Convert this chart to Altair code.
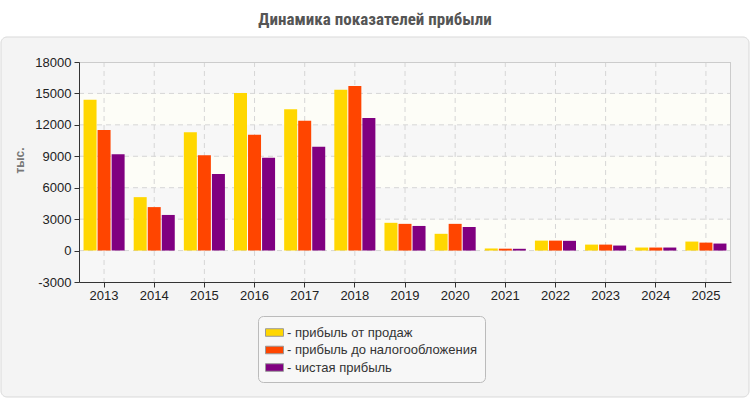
import altair as alt
import pandas as pd

# Profit indicators, thousands
years = ["2013", "2014", "2015", "2016", "2017", "2018", "2019",
         "2020", "2021", "2022", "2023", "2024", "2025"]
sales_profit = [14400, 5100, 11300, 15050, 13500, 15350, 2650,
                1600, 200, 950, 570, 290, 860]
pretax_profit = [11500, 4150, 9100, 11050, 12400, 15700, 2550,
                 2550, 180, 950, 570, 290, 760]
net_profit = [9200, 3400, 7300, 8850, 9900, 12650, 2350,
              2250, 170, 930, 480, 290, 670]

series_names = ["прибыль от продаж", "прибыль до налогообложения", "чистая прибыль"]
series_colors = ["#FFD700", "#FF4500", "#800080"]
y_ticks = [-3000, 0, 3000, 6000, 9000, 12000, 15000, 18000]

W, H = 652, 220
FONT = "Liberation Sans, Arial, sans-serif"

rows = []
for name, vals in zip(series_names, [sales_profit, pretax_profit, net_profit]):
    for yr, v in zip(years, vals):
        rows.append({"year": yr, "series": name, "value": v})
df = pd.DataFrame(rows)

# alternating horizontal bands behind the bars
bands = pd.DataFrame({
    "value": y_ticks[1:],
    "lo": y_ticks[:-1],
    "kind": ["a" if i % 2 == 0 else "b" for i in range(len(y_ticks) - 1)],
})

y_scale = alt.Scale(domain=[-3000, 18000], nice=False, zero=False)
x_scale = alt.Scale(domain=years, paddingInner=0.18, paddingOuter=0.09)

# one shared axis definition per channel, reused by every layer
x_axis = alt.Axis(title=None, labelAngle=0, labelFontSize=13,
                  labelColor="#222222", labelFont=FONT,
                  tickSize=5, tickColor="#333333",
                  domainColor="#333333", labelPadding=2,
                  grid=False, zindex=1)
y_axis = alt.Axis(values=y_ticks, title="тыс.", titleFontSize=12,
                  titleFont=FONT, titleColor="#777777",
                  titleFontWeight="bold", titleAngle=-90,
                  titleX=-60, titleY=98, titleAlign="center",
                  titleBaseline="middle",
                  labelExpr="'' + datum.value",
                  labelFontSize=13, labelColor="#222222",
                  labelFont=FONT, tickSize=5, tickColor="#333333",
                  domainColor="#333333", labelPadding=3,
                  grid=False, zindex=1)

one = pd.DataFrame({"k": [0]})

panel = alt.Chart(one).mark_rect(
    fill="#f4f4f4", stroke="#d9d9d9", strokeWidth=1, cornerRadius=6
).encode(
    x=alt.value(-78), x2=alt.value(670), y=alt.value(-25), y2=alt.value(335)
)

title = alt.Chart(one).mark_text(
    text="Динамика показателей прибыли", fontSize=17, fontWeight="bold",
    font="Liberation Sans Narrow, Arial Narrow, Roboto Condensed, sans-serif",
    color="#555555", align="center", baseline="middle"
).encode(x=alt.value(296), y=alt.value(-42))

band_layer = alt.Chart(bands).mark_rect().encode(
    x=alt.value(0), x2=alt.value(W),
    y=alt.Y("value:Q", scale=y_scale, axis=y_axis),
    y2="lo:Q",
    color=alt.Color("kind:N", scale=alt.Scale(domain=["a", "b"],
                                              range=["#f7f7f7", "#fdfdf7"]),
                    legend=None),
)

grid_y = alt.Chart(pd.DataFrame({"value": y_ticks[1:-1]})).mark_rule(
    color="#d6d6d6", strokeDash=[5, 4], strokeWidth=1
).encode(
    y=alt.Y("value:Q", scale=y_scale, axis=y_axis),
    x=alt.value(0), x2=alt.value(W),
)

grid_x = alt.Chart(pd.DataFrame({"year": years})).mark_rule(
    color="#d6d6d6", strokeDash=[5, 4], strokeWidth=1
).encode(
    x=alt.X("year:N", scale=x_scale, axis=x_axis, bandPosition=0.5),
    y=alt.value(0), y2=alt.value(H),
)

frame = alt.Chart(one).mark_rule(color="#cccccc", strokeWidth=1).encode(
    x=alt.value(0), x2=alt.value(W), y=alt.value(0.5)
)
frame_r = alt.Chart(one).mark_rule(color="#cccccc", strokeWidth=1).encode(
    x=alt.value(W - 0.5), y=alt.value(0), y2=alt.value(H)
)

legend_symbol = "M-1,-0.42 L1,-0.42 L1,0.42 L-1,0.42 Z"

bars = alt.Chart(df).mark_bar(size=13).encode(
    x=alt.X("year:N", scale=x_scale, sort=years, axis=x_axis),
    xOffset=alt.XOffset("series:N", sort=series_names,
                        scale=alt.Scale(paddingInner=0.07, paddingOuter=0)),
    y=alt.Y("value:Q", scale=y_scale, axis=y_axis),
    color=alt.Color(
        "series:N",
        sort=series_names,
        scale=alt.Scale(domain=series_names, range=series_colors),
        legend=alt.Legend(
            title=None, orient="none", legendX=179, legendY=254,
            direction="vertical",
            fillColor="#f7f7f7", strokeColor="#bbbbbb", cornerRadius=5,
            padding=7, rowPadding=0.5,
            symbolType=legend_symbol, symbolSize=324,
            symbolStrokeColor="#999999", symbolStrokeWidth=1,
            symbolOpacity=1,
            labelFontSize=13, labelColor="#333333", labelFont=FONT,
            labelOffset=3, labelLimit=300,
            labelExpr="'- ' + datum.label",
        ),
    ),
)

chart = alt.layer(
    panel, title, band_layer, grid_y, grid_x, frame, frame_r, bars
).resolve_scale(color="independent").properties(
    width=W, height=H,
    autosize=alt.AutoSizeParams(type="none"),
    padding={"left": 79, "top": 62, "right": 19, "bottom": 118},
    background="white",
).configure_view(stroke=None)

chart.save("out.html", embed_options={"renderer": "svg", "actions": False})
